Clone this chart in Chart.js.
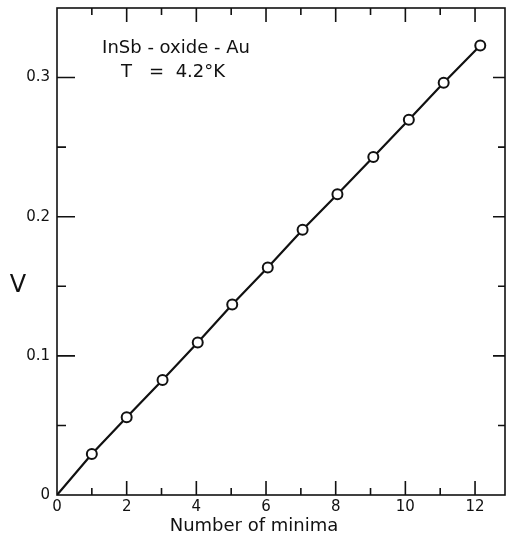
<!DOCTYPE html>
<html>
<head>
<meta charset="utf-8">
<script src="https://cdn.jsdelivr.net/npm/chart.js@4"></script>
<style>
  html, body { margin: 0; padding: 0; background: #fff; }
  #wrap { width: 507px; height: 539px; }
</style>
</head>
<body>
<div id="wrap"><canvas id="minimaChart" width="507" height="539"></canvas></div>
<script>
// Voltage at each tunnelling minimum, InSb-oxide-Au junction at 4.2 K
const minimaIndex = [1, 2, 3.03, 4.04, 5.03, 6.05, 7.05, 8.05, 9.08, 10.1, 11.1, 12.15];
const voltage = [0.0294, 0.0558, 0.0826, 0.1096, 0.1369, 0.1635, 0.1907, 0.2161, 0.2429, 0.2697, 0.2963, 0.323];
const xTickLabels = [0, 2, 4, 6, 8, 10, 12];
const yTickLabels = [0, 0.1, 0.2, 0.3];
const xLimits = [0, 12.86];
const yLimits = [0, 0.35];

const FONT = '"DejaVu Sans", "Liberation Sans", sans-serif';

// line starts at the origin, no marker there
const linePoints = [{ x: 0, y: 0 }].concat(minimaIndex.map((x, i) => ({ x: x, y: voltage[i] })));
const radii = linePoints.map((p, i) => i === 0 ? 0 : 5);

// frame, inward tick marks and the free text
const framePlugin = {
  id: 'frame',
  afterDraw(chart) {
    const ctx = chart.ctx;
    const a = chart.chartArea;
    const xs = chart.scales.x, ys = chart.scales.y;
    ctx.save();
    ctx.strokeStyle = '#111';
    ctx.lineWidth = 1.6;
    ctx.strokeRect(a.left, a.top, a.right - a.left, a.bottom - a.top);

    ctx.beginPath();
    for (let v = 1; v <= 12; v++) {
      const px = xs.getPixelForValue(v);
      const major = v % 2 === 0;
      ctx.moveTo(px, a.bottom);
      ctx.lineTo(px, a.bottom - (major ? 14 : 7));
      ctx.moveTo(px, a.top);
      ctx.lineTo(px, a.top + (major ? 14 : 7));
    }
    for (let k = 1; k <= 6; k++) {
      const v = k * 0.05;
      const py = ys.getPixelForValue(v);
      const major = k % 2 === 0;
      ctx.moveTo(a.left, py);
      ctx.lineTo(a.left + (major ? 18 : 9), py);
      ctx.moveTo(a.right, py);
      ctx.lineTo(a.right - (major ? 12 : 7), py);
    }
    ctx.stroke();

    ctx.fillStyle = '#111';
    ctx.textAlign = 'center';
    ctx.textBaseline = 'middle';
    ctx.font = '24px ' + FONT;
    ctx.fillText('V', 18, 286);
    ctx.font = '18px ' + FONT;
    ctx.fillText('Number of minima', 254, 526);
    ctx.fillText('InSb - oxide - Au', 176, 48);
    ctx.fillText('T   =  4.2°K', 173, 72);
    ctx.restore();
  }
};

new Chart(document.getElementById('minimaChart'), {
  type: 'line',
  data: {
    datasets: [{
      data: linePoints,
      borderColor: '#111',
      borderWidth: 2.2,
      pointRadius: radii,
      pointHoverRadius: radii,
      pointBackgroundColor: '#fff',
      pointBorderColor: '#111',
      pointBorderWidth: 2,
      tension: 0
    }]
  },
  options: {
    responsive: false,
    animation: false,
    layout: { autoPadding: false, padding: { top: 8, right: 2, left: 0, bottom: 0 } },
    plugins: {
      legend: { display: false },
      tooltip: { enabled: false }
    },
    scales: {
      x: {
        type: 'linear',
        min: xLimits[0],
        max: xLimits[1],
        grid: { display: false, drawTicks: false },
        border: { display: false },
        ticks: {
          autoSkip: false,
          maxRotation: 0,
          padding: 3,
          color: '#111',
          font: { family: FONT, size: 15 }
        },
        afterBuildTicks: s => { s.ticks = xTickLabels.map(v => ({ value: v })); },
        afterFit: s => { s.height = 44; s.paddingLeft = 0; s.paddingRight = 0; }
      },
      y: {
        type: 'linear',
        min: yLimits[0],
        max: yLimits[1],
        grid: { display: false, drawTicks: false },
        border: { display: false },
        ticks: {
          autoSkip: false,
          padding: 7,
          color: '#111',
          font: { family: FONT, size: 15 },
          callback: v => String(v)
        },
        afterBuildTicks: s => { s.ticks = yTickLabels.map(v => ({ value: v })); },
        afterFit: s => { s.width = 57; s.paddingTop = 0; s.paddingBottom = 0; }
      }
    }
  },
  plugins: [framePlugin]
});
</script>
</body>
</html>
